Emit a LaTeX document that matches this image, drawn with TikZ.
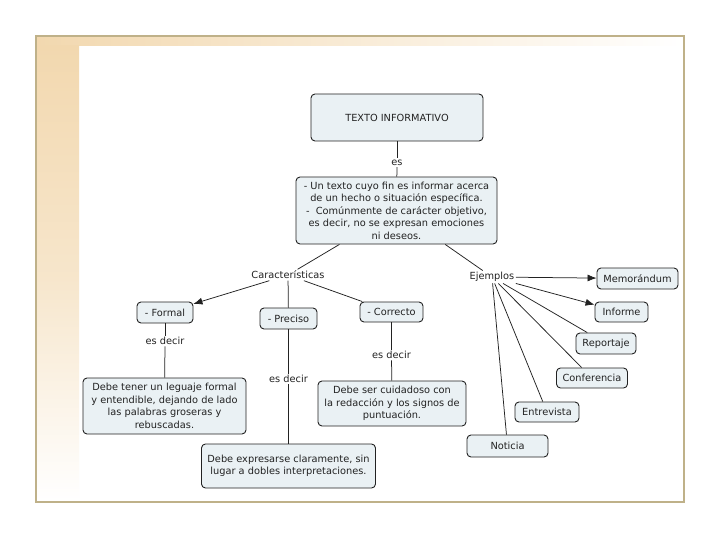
\documentclass[tikz,border=0pt]{standalone}
\usepackage{fontspec}
\setmainfont{DejaVu Sans}
\usetikzlibrary{arrows.meta}
\definecolor{framecol}{HTML}{BFB189}
\definecolor{beige}{HTML}{F2D8AF}
\definecolor{boxfill}{HTML}{EAF1F4}
\definecolor{ink}{HTML}{222222}
\tikzset{
  cbox/.style={draw=ink, fill=boxfill, rounded corners=4pt, line width=0.9pt,
    align=center, inner sep=1pt, text=ink},
  lbl/.style={fill=white, inner sep=1.5pt, text=ink},
  conn/.style={draw=ink, line width=0.75pt},
  arr/.style={conn, -{Latex[length=9pt,width=7pt]}},
}
\begin{document}
\begin{tikzpicture}[x=1pt,y=-1pt, font=\fontsize{9.8}{12.5}\selectfont]
\useasboundingbox (0,0) rectangle (720,540);
\fill[white] (0,0) rectangle (720,540);
% frame
\shade[left color=beige, right color=white] (36,36) rectangle (684,46);
\shade[top color=beige, bottom color=white, middle color=beige!65] (36,46) rectangle (79,502);
\draw[framecol, line width=2.2pt] (36,36) rectangle (684,502);

% main nodes
\node[cbox, minimum width=172pt, minimum height=47pt] (title) at (397,117.5) {TEXTO INFORMATIVO};
\node[cbox, minimum width=201pt, minimum height=67pt] (desc) at (396.5,210.5)
  {- Un texto cuyo fin es informar acerca\\de un hecho o situación específica.\\-\ \ Comúnmente de carácter objetivo,\\es decir, no se expresan emociones\\ni deseos.};
\node[lbl] (es) at (397,162.5) {es};

\node[lbl] (car) at (288,275) {Características};
\node[lbl] (ej) at (492,277) {Ejemplos};

\node[cbox, minimum width=56pt, minimum height=21pt] (formal) at (165,312.5) {- Formal};
\node[cbox, minimum width=57pt, minimum height=21pt] (preciso) at (288.5,318.5) {- Preciso};
\node[cbox, minimum width=63pt, minimum height=20pt] (correcto) at (391.5,312) {- Correcto};

\node[lbl] (ed1) at (165,341) {es decir};
\node[lbl] (ed2) at (288.5,379) {es decir};
\node[lbl] (ed3) at (391.5,355) {es decir};

\node[cbox, minimum width=163pt, minimum height=56pt] (fd) at (164.5,406)
  {Debe tener un leguaje formal\\y entendible, dejando de lado\\las palabras groseras y\\rebuscadas.};
\node[cbox, minimum width=174pt, minimum height=44pt] (pd) at (288.5,466)
  {Debe expresarse claramente, sin\\lugar a dobles interpretaciones.};
\node[cbox, minimum width=148pt, minimum height=45pt] (cd) at (392,403.5)
  {Debe ser cuidadoso con\\la redacción y los signos de\\puntuación.};

\node[cbox, minimum width=81pt, minimum height=21pt] (mem) at (637.5,278.5) {Memorándum};
\node[cbox, minimum width=53pt, minimum height=20pt] (inf) at (621.5,312) {Informe};
\node[cbox, minimum width=60pt, minimum height=21pt] (rep) at (606,343.5) {Reportaje};
\node[cbox, minimum width=71pt, minimum height=20pt] (conf) at (592,378) {Conferencia};
\node[cbox, minimum width=64pt, minimum height=20pt] (ent) at (547,412) {Entrevista};
\node[cbox, minimum width=81pt, minimum height=22pt] (noti) at (507.5,446) {Noticia};

% connectors
\draw[conn] (title) -- (es);
\draw[conn] (es) -- (desc);
\draw[conn] (desc) -- (car);
\draw[conn] (desc) -- (ej);
\draw[arr] (car) -- (formal);
\draw[conn] (car) -- (preciso);
\draw[conn] (car) -- (correcto);
\draw[conn] (formal) -- (ed1);
\draw[conn] (ed1) -- (fd);
\draw[conn] (preciso) -- (ed2);
\draw[conn] (ed2) -- (pd);
\draw[conn] (correcto) -- (ed3);
\draw[conn] (ed3) -- (cd);
\draw[arr] (ej) -- (mem);
\draw[arr] (ej) -- (inf);
\draw[conn] (ej) -- (rep);
\draw[conn] (ej) -- (conf);
\draw[conn] (ej) -- (ent);
\draw[conn] (ej) -- (noti);
\end{tikzpicture}
\end{document}
